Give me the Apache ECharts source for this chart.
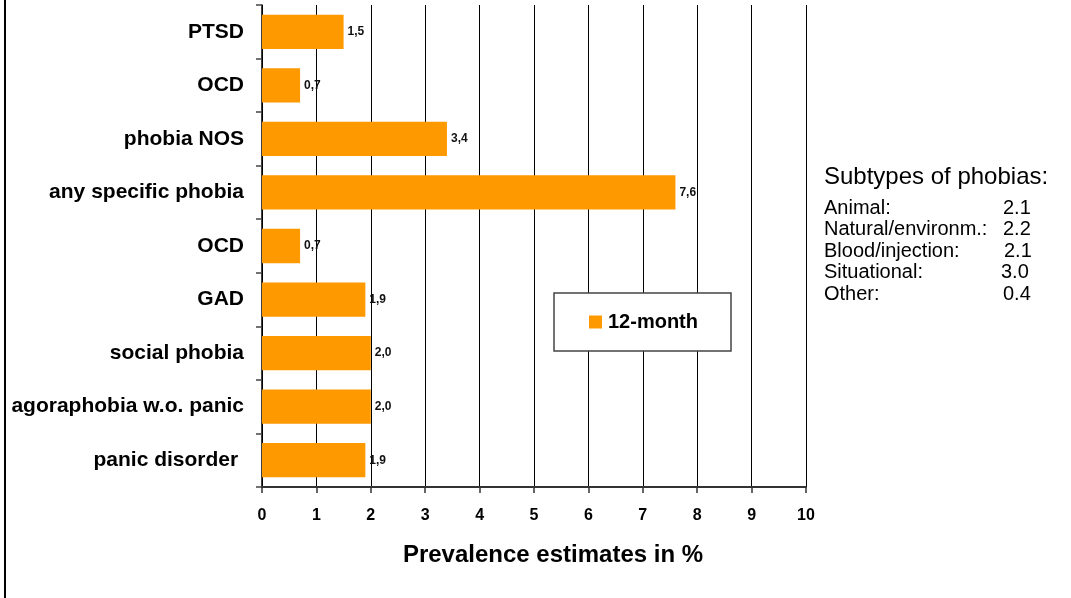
<!DOCTYPE html>
<html>
<head>
<meta charset="utf-8">
<title>Prevalence estimates</title>
<script src="https://cdn.jsdelivr.net/npm/echarts@6/dist/echarts.min.js"></script>
<style>
  html, body { margin: 0; padding: 0; background: #ffffff; }
  #chart { width: 1071px; height: 598px; }
</style>
</head>
<body>
<div id="chart"></div>
<script>
// Disorders, listed bottom to top as they sit on the category axis
const categories = [
  'panic disorder',
  'agoraphobia w.o. panic',
  'social phobia',
  'GAD',
  'OCD',
  'any specific phobia',
  'phobia NOS',
  'OCD',
  'PTSD'
];

// 12-month prevalence, in percent
const prevalence12m = [1.9, 2.0, 2.0, 1.9, 0.7, 7.6, 3.4, 0.7, 1.5];

// Value axis ticks
const xTicks = [0, 1, 2, 3, 4, 5, 6, 7, 8, 9, 10];

// Side note: subtypes of specific phobias
const subtypeNames = ['Animal:', 'Natural/environm.:', 'Blood/injection:', 'Situational:', 'Other:'];
const subtypeValues = ['2.1', '2.2', '2.1', '3.0', '0.4'];

const FONT = 'Arial, "Liberation Sans", sans-serif';
const chart = echarts.init(document.getElementById('chart'), null, { renderer: 'canvas' });

// Side note text elements
const noteX = 824;
const noteValueX = [1003, 1003, 1004, 1001, 1003];
const noteTitleY = 179;
const noteRowY0 = 209;
const noteRowStep = 21.5;
const noteElements = [
  {
    type: 'text',
    left: noteX,
    top: noteTitleY - 14,
    style: { text: 'Subtypes of phobias:', font: '24px ' + FONT, fill: '#000' }
  }
];
subtypeNames.forEach(function (name, i) {
  const y = noteRowY0 + i * noteRowStep - 11;
  noteElements.push({
    type: 'text', left: noteX, top: y,
    style: { text: name, font: '20px ' + FONT, fill: '#000' }
  });
  noteElements.push({
    type: 'text', left: noteValueX[i], top: y,
    style: { text: subtypeValues[i], font: '20px ' + FONT, fill: '#000' }
  });
});

const option = {
  animation: false,
  backgroundColor: '#ffffff',
  textStyle: { fontFamily: FONT },
  grid: { left: 262, right: 265, top: 5, bottom: 111, containLabel: false },
  legend: {
    left: 554,
    top: 293,
    orient: 'horizontal',
    backgroundColor: '#ffffff',
    borderColor: '#444444',
    borderWidth: 1.5,
    padding: [19, 33, 19, 35],
    icon: 'rect',
    itemWidth: 13,
    itemHeight: 13,
    itemGap: 10,
    textStyle: { fontFamily: FONT, fontWeight: 'bold', fontSize: 20, color: '#000', padding: [0, 0, 0, 1] },
    data: ['12-month']
  },
  xAxis: {
    type: 'value',
    min: xTicks[0],
    max: xTicks[xTicks.length - 1],
    interval: 1,
    name: 'Prevalence estimates in %',
    nameLocation: 'middle',
    nameGap: 56,
    nameTextStyle: { fontFamily: FONT, fontWeight: 'bold', fontSize: 24, color: '#000', padding: [0, 0, 0, 38] },
    axisLine: { show: true, lineStyle: { color: '#333333', width: 2 } },
    axisTick: { show: true, length: 6, lineStyle: { color: '#333333', width: 1.5 } },
    axisLabel: { fontFamily: FONT, fontWeight: 'bold', fontSize: 16, color: '#000', margin: 21 },
    splitLine: { show: true, lineStyle: { color: '#000000', width: 1 } }
  },
  yAxis: {
    type: 'category',
    data: categories,
    axisLine: { show: true, lineStyle: { color: '#000000', width: 1.5 } },
    axisTick: { show: true, inside: false, length: 6, lineStyle: { color: '#444444', width: 1.5 } },
    axisLabel: {
      fontFamily: FONT, fontWeight: 'bold', fontSize: 21, color: '#000', margin: 18, padding: [6, 0, 0, 0],
      // the bottom entry carries a trailing space in its label text
      formatter: function (value, index) { return index === 0 ? value + ' ' : value; }
    },
    splitLine: { show: false }
  },
  series: [
    {
      name: '12-month',
      type: 'bar',
      data: prevalence12m,
      barWidth: '64%',
      itemStyle: { color: '#FF9900' },
      label: {
        show: true,
        position: 'right',
        distance: 4,
        fontFamily: FONT,
        fontWeight: 'bold',
        fontSize: 12,
        color: '#111',
        padding: [3, 0, 0, 0],
        formatter: function (p) { return p.value.toFixed(1).replace('.', ','); }
      }
    }
  ],
  graphic: [
    // frame edge along the left side
    {
      type: 'rect',
      shape: { x: 4, y: 0, width: 2, height: 598 },
      style: { fill: '#000' }
    }
  ].concat(noteElements)
};

chart.setOption(option);
</script>
</body>
</html>
